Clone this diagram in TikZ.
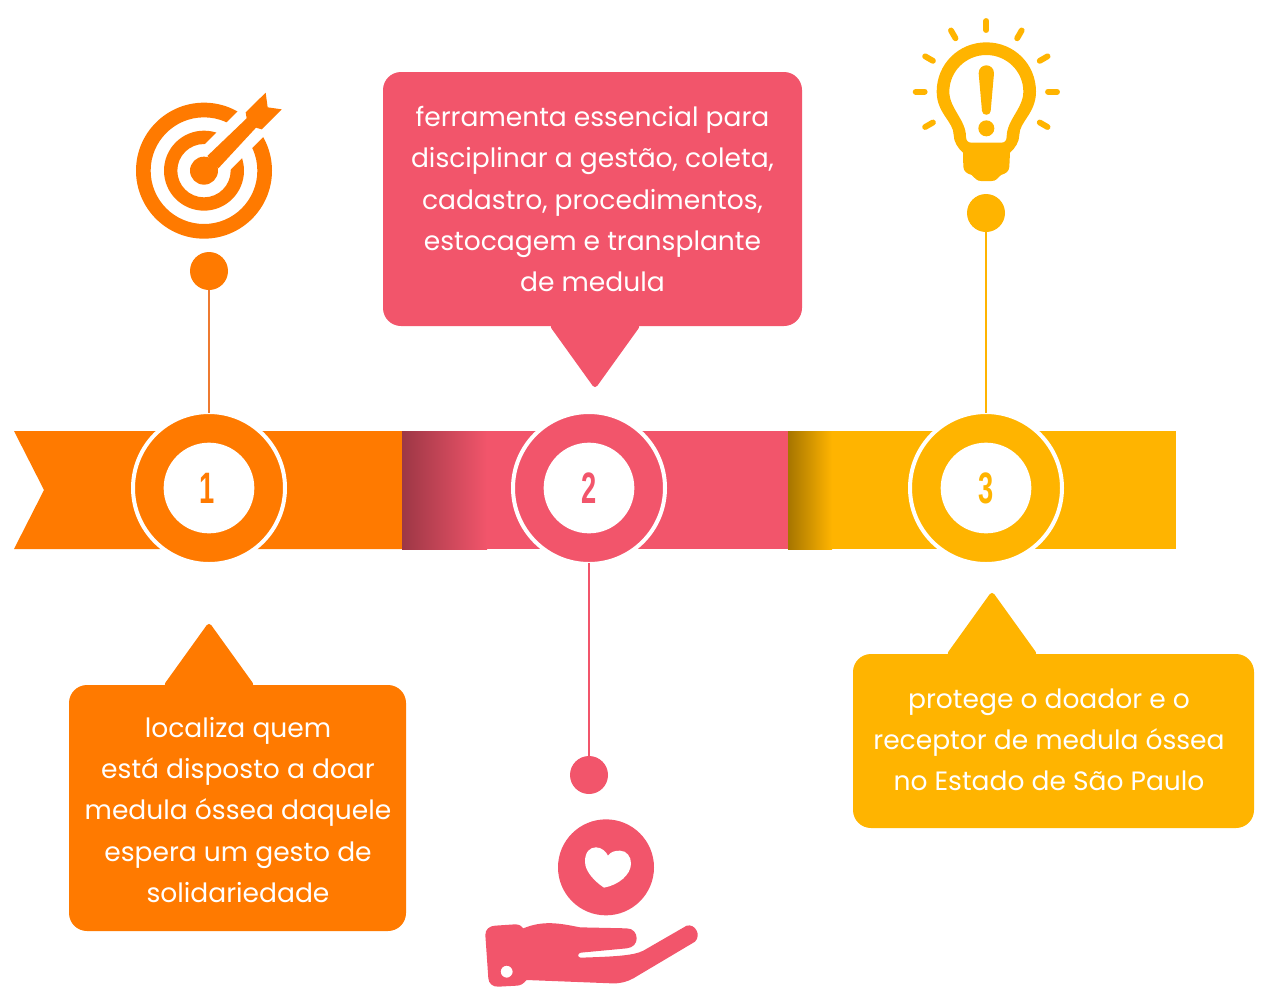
\documentclass[tikz,border=0pt]{standalone}
\usepackage{fontspec}
\usepackage{graphicx}
\setmainfont{Poppins}
\newfontfamily\numfont{Liberation Sans}
\usetikzlibrary{calc}
\definecolor{cora}{HTML}{FF7A00}
\definecolor{cpink}{HTML}{F2556B}
\definecolor{cyel}{HTML}{FFB400}
\definecolor{cline}{HTML}{EE7A30}
\tikzset{
 bubtext/.style={text=white,font=\fontsize{19.9}{30.8}\selectfont,align=center,anchor=center,inner sep=0pt},
 ring/.style={circle,draw=white,line width=3pt,minimum size=114pt,inner sep=0pt},
 hub/.style={circle,fill=white,minimum size=68pt,inner sep=0pt},
 dot/.style={circle,minimum size=28.5pt,inner sep=0pt},
 num/.style={font=\fontsize{33}{33}\selectfont\numfont\bfseries,inner sep=0pt},
 bubble/.style={line join=round,rounded corners=13.5pt},
}
\begin{document}
\begin{tikzpicture}[x=0.75pt,y=-0.75pt]
\useasboundingbox (0,0) rectangle (1268,1000);
% band
\fill[cora] (14,431) -- (402,431) -- (402,549) -- (14,549) -- (44,490) -- cycle;
\fill[cpink] (402,431) rectangle (788,549);
\fill[cyel] (788,431) rectangle (1176,549);
\shade[left color=black!35!cpink,right color=cpink] (402,431) rectangle (487,549);
\shade[left color=black!35!cyel,right color=cyel] (788,431) rectangle (832,549);
% hubs
\node[ring,fill=cora] (d1) at (209,488) {};
\node[ring,fill=cpink] (d2) at (589,488) {};
\node[ring,fill=cyel] (d3) at (986,488) {};
\node[hub] (h1) at (209,488) {};
\node[hub] (h2) at (589,488) {};
\node[hub] (h3) at (986,488) {};
\node[num,text=cora] (n1) at (207,488) {\scalebox{0.62}[1]{1}};
\node[num,text=cpink] (n2) at (589,488) {\scalebox{0.62}[1]{2}};
\node[num,text=cyel] (n3) at (986,488) {\scalebox{0.62}[1]{3}};
% lollipop dots
\node[dot,fill=cora] (p1) at (209,271) {};
\node[dot,fill=cpink] (p2) at (589,775) {};
\node[dot,fill=cyel] (p3) at (986,213) {};
\coordinate (a1) at (209,413);
\coordinate (a2) at (589,563);
\coordinate (a3) at (986,413);
\draw[cline,line width=1.9pt] (p1) -- (a1);
\draw[cpink,line width=1.9pt] (p2) -- (a2);
\draw[cyel,line width=1.9pt] (p3) -- (a3);
% bubbles
\fill[cpink,rounded corners=13.5pt] (383,72) rectangle (802,326);
\fill[cpink,rounded corners=3pt] (549,325) -- (595,389) -- (641,325) -- cycle;
\fill[cora,rounded corners=13.5pt] (69,685) rectangle (406,931);
\fill[cora,rounded corners=3pt] (163,686) -- (209,622) -- (255,686) -- cycle;
\fill[cyel,rounded corners=13.5pt] (853,654) rectangle (1254,828);
\fill[cyel,rounded corners=3pt] (946,655) -- (992,591) -- (1038,655) -- cycle;
\node[bubtext] (t2) at (592.5,199) {ferramenta essencial para\\disciplinar a gestão, coleta,\\cadastro, procedimentos,\\estocagem e transplante\\de medula};
\node[bubtext] (t1) at (238,810) {localiza quem\\está disposto a doar\\medula óssea daquele\\espera um gesto de\\solidariedade};
\node[bubtext] (t3) at (1049,740) {protege o doador e o\\receptor de medula óssea\\no Estado de São Paulo};
% target icon
\begin{scope}[shift={(120,80)},x=0.25pt,y=-0.25pt]
 \fill[cora,even odd rule] (252,272) circle[radius=204] (252,272) circle[radius=160];
 \fill[cora,even odd rule] (252,272) circle[radius=120] (252,272) circle[radius=80];
 \draw[white,line width=27pt] (252,272) -- (452,72);
 \fill[cora] (252,272) circle[radius=42];
 \fill[cora] (262,228) -- (380,115) -- (377,97) -- (437,38) -- (443,82) -- (485,88) -- (425,148) -- (408,143) -- (295,265) -- cycle;
\end{scope}
% bulb icon
\begin{scope}[shift={(900,10)},x=0.25pt,y=-0.25pt]
 \foreach \a in {0,30,60,90,120,150,180,210,330}
  \draw[cyel,line width=4.4pt,line cap=round] ($(259,245)+(\a:-1)$) ++(\a:0) ;
 \foreach \a/\dx/\dy in {0/1/0,30/0.866/-0.5,60/0.5/-0.866,90/0/-1,120/-0.5/-0.866,150/-0.866/-0.5,180/-1/0,210/-0.866/0.5,330/0.866/0.5}
  \draw[cyel,line width=4.4pt,line cap=round] (259+185*\dx,245+185*\dy) -- (259+212*\dx,245+212*\dy);
 \fill[cyel,even odd rule]
  (110,245) .. controls (110,162) and (176,97) .. (259,97)
  .. controls (342,97) and (408,162) .. (408,245)
  .. controls (408,310) and (358,335) .. (358,375)
  .. controls (358,395) and (345,415) .. (330,428)
  -- (328,470) .. controls (327,485) and (318,490) .. (303,495)
  .. controls (292,505) and (288,513) .. (275,513) -- (243,513)
  .. controls (230,513) and (226,505) .. (215,495)
  .. controls (200,490) and (191,485) .. (190,470)
  -- (189,428) .. controls (174,415) and (161,395) .. (161,375)
  .. controls (161,335) and (110,310) .. (110,245) -- cycle
  (148,245) .. controls (148,295) and (198,330) .. (198,380)
  .. controls (198,392) and (204,398) .. (214,398) -- (304,398)
  .. controls (314,398) and (320,392) .. (320,380)
  .. controls (320,330) and (370,295) .. (370,245)
  .. controls (370,184) and (320,135) .. (259,135)
  .. controls (198,135) and (148,184) .. (148,245) -- cycle;
 \fill[cyel] (236,190) .. controls (236,158) and (282,158) .. (282,190)
  -- (272,303) .. controls (271,318) and (247,318) .. (246,303) -- cycle;
 \fill[cyel] (259,355) circle[radius=24];
\end{scope}
% hand icon
\begin{scope}[shift={(470,810)},x=0.25pt,y=-0.25pt]
 \fill[cpink] (408,172) circle[radius=144];
 \fill[white] (402,233) .. controls (375,215) and (345,185) .. (345,155)
  .. controls (345,125) and (360,112) .. (378,112)
  .. controls (395,112) and (408,125) .. (414,137)
  .. controls (422,125) and (435,122) .. (450,122)
  .. controls (470,122) and (483,140) .. (483,160)
  .. controls (483,195) and (445,225) .. (402,233) -- cycle;
 \fill[cpink,even odd rule] (46,375) .. controls (46,358) and (58,348) .. (75,347)
  -- (135,343) .. controls (148,343) and (155,348) .. (160,355)
  .. controls (220,330) and (270,340) .. (330,352)
  -- (470,355) .. controls (490,355) and (500,370) .. (500,385)
  .. controls (500,400) and (490,413) .. (470,415)
  -- (332,428) .. controls (322,430) and (322,443) .. (332,443)
  .. controls (420,440) and (490,438) .. (520,422)
  -- (650,347) .. controls (675,340) and (695,375) .. (675,395)
  -- (490,505) .. controls (470,516) and (450,521) .. (425,520)
  -- (170,510) .. controls (160,522) and (150,527) .. (140,527)
  -- (85,530) .. controls (68,531) and (56,520) .. (55,505) -- cycle
  (110,485) circle[radius=18];
\end{scope}
\end{tikzpicture}
\end{document}
